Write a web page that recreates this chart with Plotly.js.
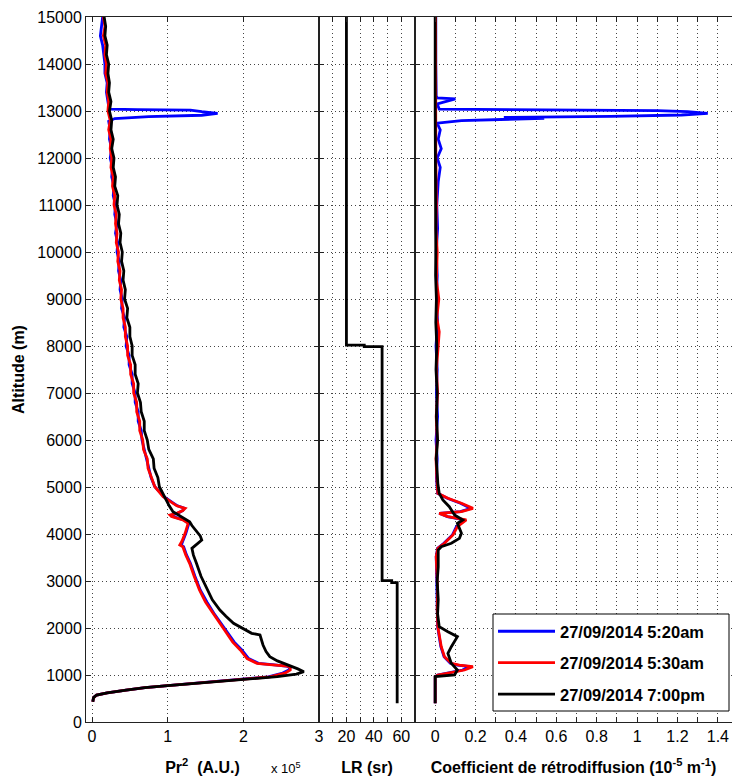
<!DOCTYPE html>
<html><head><meta charset="utf-8">
<script src="https://cdn.plot.ly/plotly-3.0.1.min.js"></script>
<style>html,body{margin:0;padding:0;background:#fff;}#chart{width:732px;height:776px;}</style>
</head><body><div id="chart"></div>
<script>
// ---------- tick values / labels ----------
const altitudeTicks = [0,1000,2000,3000,4000,5000,6000,7000,8000,9000,10000,11000,12000,13000,14000,15000];
const altitudeLabels = ['0','1000','2000','3000','4000','5000','6000','7000','8000','9000','10000','11000','12000','13000','14000','15000'];
const pr2Ticks = [0,1,2,3];
const pr2Labels = ['0','1','2','3'];
const lrTicks = [20,40,60];
const lrLabels = ['20','40','60'];
const lrMinorTicks = [10,30,50];
const betaTicks = [0,0.2,0.4,0.6,0.8,1.0,1.2,1.4];
const betaLabels = ['0','0.2','0.4','0.6','0.8','1','1.2','1.4'];
const betaMinorTicks = [0.1,0.3,0.5,0.7,0.9,1.1,1.3];

const seriesNames = ['27/09/2014 5:20am','27/09/2014 5:30am','27/09/2014 7:00pm'];
const seriesColors = ['#0000ff','#ff0000','#000000'];

// ---------- Pr^2 profiles (x 10^5 A.U.) ----------
const altPrLowCommon = [430,520,574,620,680,730,772,840,908];
const prLowCommon = [0.01,0.02,0.06,0.2,0.45,0.7,1.0,1.5,2.05];

const altUpper = [5200,5400,5600,5800,6000,6200,6400,6600,6800,7000,7200,7400,7600,7800,8000,8200,8400,8600,8800,9000,9200,9400,9600,9800,10000,10200,10400,10600,10800,11000,11200,11400,11600,11800,12000,12200,12400,12600,12800,13000,13200,13400,13600,13800,14000,14200,14400,14600,14800,15000];

const altPrBlackMid = [964,1020,1070,1130,1213,1300,1390,1500,1638,1760,1851,1887,2000,2100,2250,2383,2600,2879,3100,3376,3550,3695,3780,3872,3960,4085,4180,4262,4380,4474,4600,4723,4850,5006];
const prBlackMid = [2.45,2.7,2.8,2.72,2.58,2.45,2.35,2.30,2.26,2.24,2.22,2.11,1.98,1.87,1.77,1.69,1.59,1.51,1.44,1.38,1.34,1.32,1.38,1.45,1.43,1.36,1.32,1.29,1.17,1.07,1.02,0.98,0.93,0.89];
const prBlackUpper = [0.87,0.82,0.81,0.75,0.73,0.69,0.69,0.65,0.64,0.60,0.61,0.57,0.57,0.53,0.53,0.50,0.50,0.46,0.47,0.43,0.44,0.41,0.42,0.39,0.40,0.37,0.38,0.35,0.36,0.33,0.34,0.30,0.31,0.28,0.29,0.26,0.28,0.25,0.26,0.23,0.25,0.22,0.23,0.21,0.22,0.19,0.20,0.17,0.18,0.16];

const altPrRedMid = [960,1040,1106,1160,1191,1220,1248,1350,1532,1700,1887,2100,2313,2550,2809,3100,3376,3550,3730,3766,3850,4014,4228,4300,4370,4404,4440,4500,4547,4600,4653,4794,5006];
const prRedMid = [2.35,2.55,2.62,2.62,2.58,2.35,2.18,2.05,1.96,1.86,1.78,1.68,1.60,1.50,1.42,1.35,1.29,1.24,1.20,1.16,1.19,1.23,1.27,1.20,1.05,1.03,1.12,1.20,1.23,1.12,1.07,0.94,0.83];
const prRedUpper = [0.79,0.74,0.73,0.68,0.67,0.63,0.63,0.59,0.59,0.55,0.55,0.51,0.51,0.47,0.47,0.44,0.44,0.41,0.41,0.38,0.39,0.36,0.37,0.34,0.35,0.32,0.33,0.31,0.32,0.29,0.30,0.27,0.28,0.25,0.26,0.24,0.25,0.22,0.24,0.21,0.22,0.20,0.21,0.18,0.19,0.17,0.18,0.15,0.17,0.15];

const altPrBlueMid = [960,1040,1106,1160,1191,1220,1248,1350,1532,1700,1887,2100,2313,2550,2809,3100,3376,3550,3730,3766,3850,4014,4228,4300,4370,4404,4440,4500,4547,4600,4653,4794,5006];
const prBlueMid = [2.33,2.52,2.60,2.62,2.56,2.38,2.20,2.07,1.98,1.88,1.80,1.70,1.61,1.52,1.43,1.36,1.30,1.25,1.21,1.18,1.20,1.24,1.28,1.21,1.07,1.05,1.13,1.20,1.22,1.13,1.08,0.95,0.83];
const altPrBlueUpper = [5200,5400,5600,5800,6000,6200,6400,6600,6800,7000,7200,7400,7600,7800,8000,8200,8400,8600,8800,9000,9200,9400,9600,9800,10000,10200,10400,10600,10800,11000,11200,11400,11600,11800,12000,12200,12400,12600,12780,12840,12880,12910,12950,12985,13020,13030,13040,13100,13200,13400,13600,13800,14000,14200,14400,14600,14800,15000];
const prBlueUpper = [0.78,0.75,0.72,0.70,0.66,0.65,0.61,0.61,0.57,0.57,0.53,0.53,0.49,0.49,0.45,0.46,0.42,0.43,0.39,0.40,0.37,0.38,0.35,0.36,0.33,0.34,0.31,0.33,0.30,0.31,0.28,0.29,0.26,0.27,0.24,0.26,0.23,0.24,0.22,0.30,0.75,1.45,1.66,1.45,1.30,0.60,0.24,0.22,0.21,0.19,0.20,0.17,0.17,0.15,0.14,0.11,0.12,0.14];

// ---------- Lidar ratio (sr) ----------
const altLR = [15000,8020,8020,7985,7985,3010,3010,2965,2965,398];
const lrValues = [20,20,33,33,46,46,53,53,57,57];

// ---------- Backscatter coefficient (10^-5 m^-1) ----------
const altBetaBlue = [400,965,1000,1060,1106,1177,1210,1248,1390,1603,1816,2028,2400,2800,3200,3518,3695,3802,3979,4156,4298,4369,4440,4475,4546,4653,4759,4865,5200,5600,6000,6500,7000,7500,8000,8500,9000,9500,10000,10500,11000,11500,11800,12000,12200,12400,12600,12740,12795,12845,12865,12885,12915,12950,12985,13010,13022,13040,13150,13260,13280,13320,14000,15000];
const betaBlue = [0,0,0.012,0.075,0.135,0.172,0.11,0.075,0.044,0.028,0.02,0.012,0.01,0.01,0.007,0.005,0.012,0.043,0.085,0.105,0.145,0.06,0.02,0.125,0.175,0.125,0.06,0.012,0.006,0.01,0.004,0.012,0.006,0.01,0.004,0.012,0.006,0.01,0.005,0.012,0.008,0.015,0.025,0.01,0.03,0.015,0.025,0.01,0.13,0.54,0.34,0.87,1.22,1.35,1.25,1.1,0.4,0.02,0.01,0.1,0.01,0.005,0.003,0.003];
const altBetaRed = [400,965,1000,1060,1106,1177,1210,1248,1390,1603,1816,2028,2400,2800,3200,3518,3695,3802,3979,4156,4298,4369,4440,4475,4546,4653,4759,4865,5200,5600,6000,6500,7000,7500,8000,8300,8600,9000,9400,10000,10500,11000,12000,13000,14000,15000];
const betaRed = [0,0,0.013,0.08,0.145,0.187,0.12,0.08,0.046,0.03,0.02,0.013,0.01,0.012,0.008,0.005,0.013,0.046,0.088,0.11,0.154,0.063,0.02,0.13,0.187,0.13,0.063,0.013,0.008,0.004,0.01,0.005,0.012,0.006,0.015,0.02,0.008,0.018,0.006,0.01,0.004,0.006,0.003,0.002,0.002,0.002];
const altBetaBlack = [397,965,1000,1106,1248,1461,1603,1816,1922,2028,2300,2600,3000,3300,3660,3730,3802,3908,4014,4228,4298,4404,4581,4723,4865,5078,5300,5600,6000,6500,7000,7500,8000,8500,9000,9500,10000,11000,12000,13000,14000,15000];
const betaBlack = [0,0,0.096,0.11,0.08,0.063,0.08,0.11,0.063,0.02,0.012,0.015,0.01,0.015,0.015,0.03,0.08,0.12,0.13,0.11,0.137,0.096,0.07,0.038,0.02,0.013,0.01,0.005,0.012,0.006,0.01,0.004,0.008,0.003,0.006,0.002,0.003,0.001,0,0,0,0];

// ---------- traces ----------
const FONT = 'Liberation Sans, Arial, Helvetica, sans-serif';
const LW = 2.8;
const prAlt = [
  altPrLowCommon.concat(altPrBlueMid, altPrBlueUpper),
  altPrLowCommon.concat(altPrRedMid, altUpper),
  altPrLowCommon.concat(altPrBlackMid, altUpper)
];
const prVal = [
  prLowCommon.concat(prBlueMid, prBlueUpper),
  prLowCommon.concat(prRedMid, prRedUpper),
  prLowCommon.concat(prBlackMid, prBlackUpper)
];
const betaAlt = [altBetaBlue, altBetaRed, altBetaBlack];
const betaVal = [betaBlue, betaRed, betaBlack];

const traces = [];
for (let i = 0; i < 3; i++) {
  traces.push({
    type: 'scatter', mode: 'lines', x: prVal[i], y: prAlt[i],
    name: seriesNames[i], legendgroup: 'g' + i,
    line: {color: seriesColors[i], width: LW},
    xaxis: 'x', yaxis: 'y', hoverinfo: 'skip'
  });
}
traces.push({
  type: 'scatter', mode: 'lines', x: lrValues, y: altLR, showlegend: false,
  line: {color: '#000', width: LW}, xaxis: 'x2', yaxis: 'y2', hoverinfo: 'skip'
});
for (let i = 0; i < 3; i++) {
  traces.push({
    type: 'scatter', mode: 'lines', x: betaVal[i], y: betaAlt[i],
    name: seriesNames[i], legendgroup: 'g' + i, showlegend: false,
    line: {color: seriesColors[i], width: LW},
    xaxis: 'x3', yaxis: 'y3', hoverinfo: 'skip'
  });
}

const GRID = {gridcolor: '#444', gridwidth: 1, griddash: '1px,3px'};
const axisBase = Object.assign({
  showline: true, linecolor: '#222', linewidth: 1,
  ticks: 'inside', ticklen: 5, tickcolor: '#222', tickwidth: 1,
  mirror: 'ticks', showgrid: true,
  zeroline: false, tickfont: {family: FONT, size: 16, color: '#000'},
  tickmode: 'array', fixedrange: true
}, GRID);
const minorBase = Object.assign({
  tickmode: 'array', ticks: 'inside', ticklen: 5, tickcolor: '#222', tickwidth: 1, showgrid: true
}, GRID);
const titleFont = {family: FONT, size: 16, color: '#000', weight: 'bold'};

const W = 732 - 86, H = 705;
const d1 = (319 - 86) / W, d2 = (415 - 86) / W;
const px = v => (v - 86) / W;
const py = v => (722 - v) / H;

const layout = {
  width: 732, height: 776,
  margin: {l: 86, r: 0, t: 17, b: 54},
  paper_bgcolor: '#fff', plot_bgcolor: '#fff',
  font: {family: FONT, color: '#000'},
  showlegend: true,
  legend: {
    x: px(493), y: py(614), xanchor: 'left', yanchor: 'top',
    bgcolor: 'rgba(0,0,0,0)', bordercolor: 'rgba(0,0,0,0)', borderwidth: 0,
    font: {family: FONT, size: 16.5, color: '#000', weight: 'bold'},
    itemwidth: 57, tracegroupgap: 7
  },
  shapes: [{
    type: 'rect', xref: 'paper', yref: 'paper', layer: 'above',
    x0: px(493), x1: px(729), y0: py(711), y1: py(614),
    fillcolor: '#fff', line: {color: '#000', width: 1}
  }],
  xaxis: Object.assign({}, axisBase, {
    domain: [0, d1], range: [-0.08, 3], tickvals: pr2Ticks, ticktext: pr2Labels,
    anchor: 'y', title: {text: 'Pr<sup>2</sup>  (A.U.)', font: titleFont, standoff: 17}
  }),
  yaxis: Object.assign({}, axisBase, {
    domain: [0, 1], range: [0, 15000], tickvals: altitudeTicks, ticktext: altitudeLabels,
    anchor: 'x', title: {text: 'Altitude (m)', font: titleFont, standoff: 8}
  }),
  xaxis2: Object.assign({}, axisBase, {
    domain: [d1, d2], range: [0, 70], tickvals: lrTicks, ticktext: lrLabels,
    minor: Object.assign({}, minorBase, {tickvals: lrMinorTicks}),
    anchor: 'y2', title: {text: 'LR (sr)', font: titleFont, standoff: 17}
  }),
  yaxis2: Object.assign({}, axisBase, {
    domain: [0, 1], range: [0, 15000], tickvals: altitudeTicks, ticktext: altitudeLabels,
    matches: 'y', anchor: 'x2', showticklabels: false
  }),
  xaxis3: Object.assign({}, axisBase, {
    domain: [d2, 1], range: [-0.1, 1.47], tickvals: betaTicks, ticktext: betaLabels,
    minor: Object.assign({}, minorBase, {tickvals: betaMinorTicks}),
    anchor: 'y3', title: {text: 'Coefficient de rétrodiffusion (10<sup>-5</sup> m<sup>-1</sup>)', font: titleFont, standoff: 17}
  }),
  yaxis3: Object.assign({}, axisBase, {
    domain: [0, 1], range: [0, 15000], tickvals: altitudeTicks, ticktext: altitudeLabels,
    matches: 'y', anchor: 'x3', showticklabels: false, mirror: false
  }),
  annotations: [{
    xref: 'paper', yref: 'paper', x: px(286), y: py(768),
    xanchor: 'center', yanchor: 'middle', showarrow: false,
    text: 'x 10<sup>5</sup>', font: {family: FONT, size: 13, color: '#000'}
  }]
};

Plotly.newPlot('chart', traces, layout, {displayModeBar: false, staticPlot: true});
</script></body></html>
